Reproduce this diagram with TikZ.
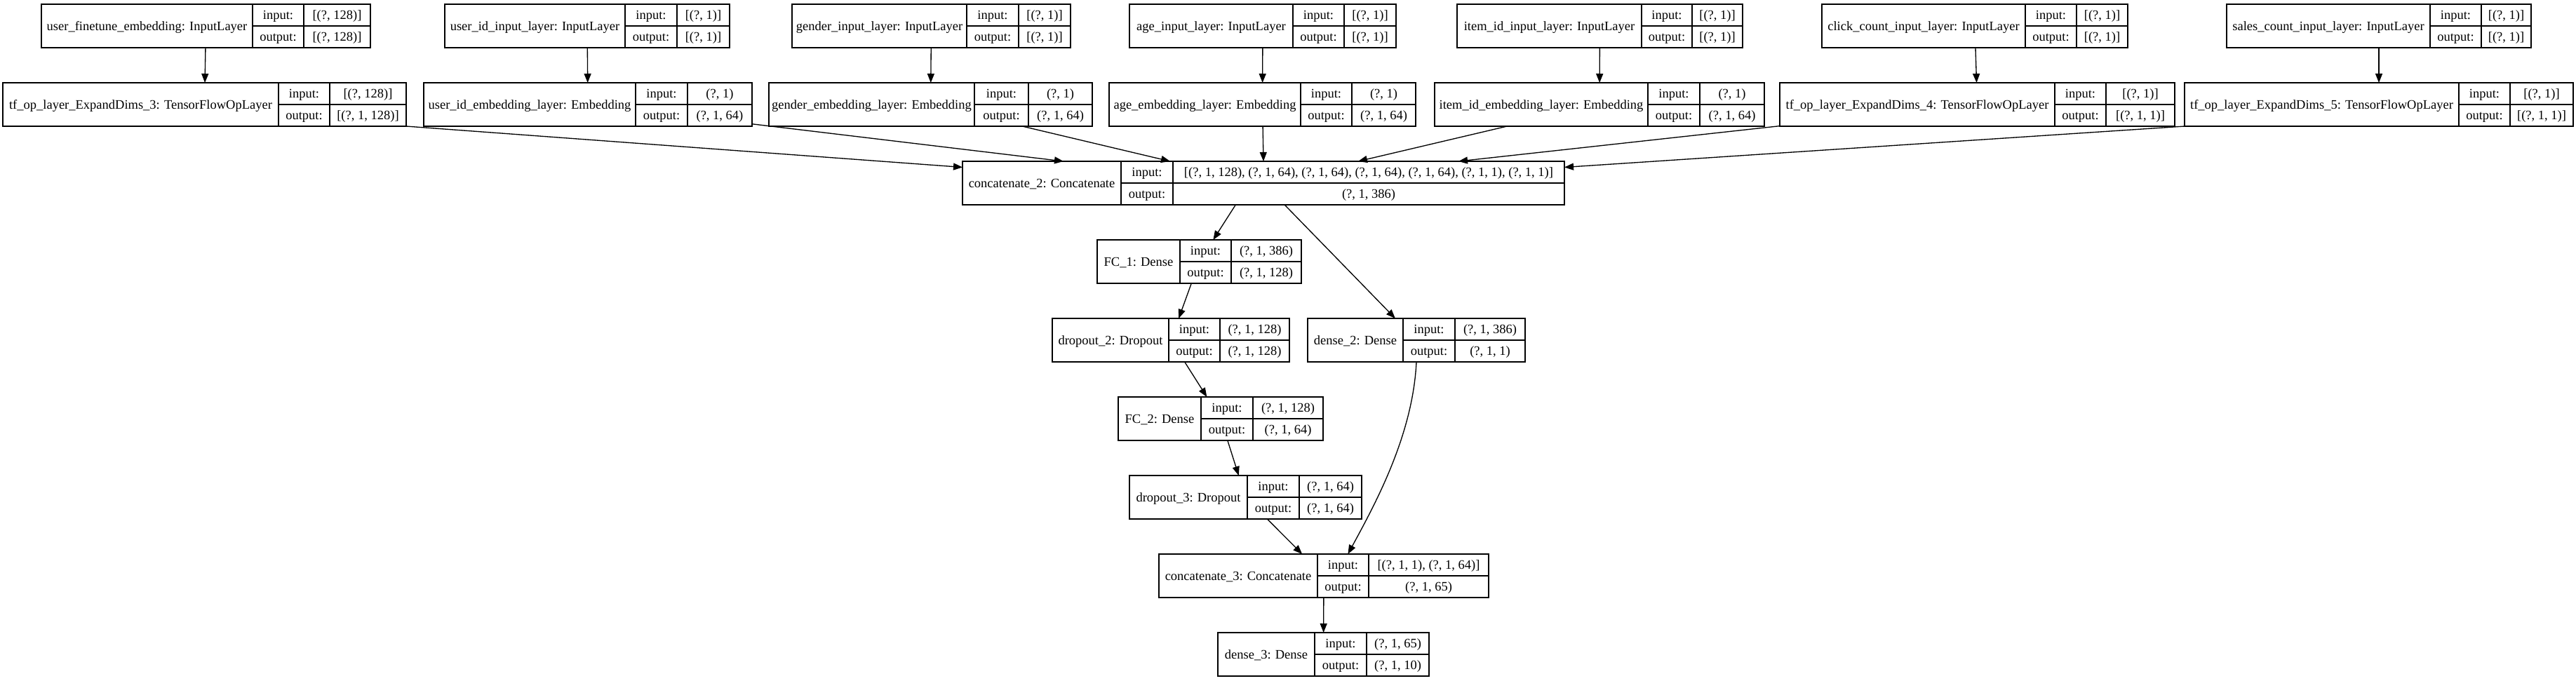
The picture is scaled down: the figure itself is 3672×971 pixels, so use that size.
\documentclass[tikz,border=0pt]{standalone}
\usepackage{fontspec}
\setmainfont{Liberation Serif}
\usetikzlibrary{arrows.meta}
\definecolor{LineColor}{RGB}{0,0,0}
\tikzstyle{arrow} = [line width=1.33pt, LineColor, -{Triangle[length=13pt, width=10pt]}]
\tikzset{
  layerbox/.style={rectangle, draw=LineColor, line width=1.33pt, inner sep=0pt, outer sep=0pt, minimum height=62pt, anchor=north west},
  cellline/.style={draw=LineColor, line width=1.33pt},
  celltext/.style={inner sep=0pt, text height=16.5pt, text depth=4pt, font=\fontsize{18.5}{22}\selectfont}
}
% name, left, second column, third column, right, top, label, input, output
\newcommand{\modellayer}[9]{%
  \node[layerbox, minimum width={(#5-#2)*1pt}] (#1) at (#2,#6) {};
  \draw[cellline] (#3,#6) -- ++(0,62) (#4,#6) -- ++(0,62) (#3,#6+31) -- (#5,#6+31);
  \node[celltext] at ({(#2+#3)/2},#6+31) {#7};
  \node[celltext] at ({(#3+#4)/2},#6+15.5) {input:};
  \node[celltext] at ({(#3+#4)/2},#6+46.5) {output:};
  \node[celltext] at ({(#4+#5)/2},#6+15.5) {#8};
  \node[celltext] at ({(#4+#5)/2},#6+46.5) {#9};
}

\begin{document}
\begin{tikzpicture}[x=1pt, y=-1pt]
    \useasboundingbox[fill=white] (0,0) rectangle (3672,971);

    % Input layers
    \modellayer{finetune}{59}{360}{433}{528}{6}{user\_finetune\_embedding: InputLayer}{[(?, 128)]}{[(?, 128)]}
    \modellayer{userid}{634}{891}{965}{1040}{6}{user\_id\_input\_layer: InputLayer}{[(?, 1)]}{[(?, 1)]}
    \modellayer{gender}{1129}{1378}{1452}{1526}{6}{gender\_input\_layer: InputLayer}{[(?, 1)]}{[(?, 1)]}
    \modellayer{age}{1610}{1843}{1916}{1990}{6}{age\_input\_layer: InputLayer}{[(?, 1)]}{[(?, 1)]}
    \modellayer{item}{2077}{2340}{2412}{2484}{6}{item\_id\_input\_layer: InputLayer}{[(?, 1)]}{[(?, 1)]}
    \modellayer{click}{2597}{2887}{2960}{3033}{6}{click\_count\_input\_layer: InputLayer}{[(?, 1)]}{[(?, 1)]}
    \modellayer{sales}{3174}{3464}{3537}{3608}{6}{sales\_count\_input\_layer: InputLayer}{[(?, 1)]}{[(?, 1)]}

    % Embeddings and expand dims
    \modellayer{expand3}{4}{397}{470}{579}{118}{tf\_op\_layer\_ExpandDims\_3: TensorFlowOpLayer}{[(?, 128)]}{[(?, 1, 128)]}
    \modellayer{userembed}{604}{906}{980}{1072}{118}{user\_id\_embedding\_layer: Embedding}{(?, 1)}{(?, 1, 64)}
    \modellayer{genderembed}{1096}{1389}{1466}{1557}{118}{gender\_embedding\_layer: Embedding}{(?, 1)}{(?, 1, 64)}
    \modellayer{ageembed}{1581}{1854}{1927}{2018}{118}{age\_embedding\_layer: Embedding}{(?, 1)}{(?, 1, 64)}
    \modellayer{itemembed}{2045}{2349}{2423}{2515}{118}{item\_id\_embedding\_layer: Embedding}{(?, 1)}{(?, 1, 64)}
    \modellayer{expand4}{2537}{2929}{3002}{3100}{118}{tf\_op\_layer\_ExpandDims\_4: TensorFlowOpLayer}{[(?, 1)]}{[(?, 1, 1)]}
    \modellayer{expand5}{3114}{3505}{3578}{3668}{118}{tf\_op\_layer\_ExpandDims\_5: TensorFlowOpLayer}{[(?, 1)]}{[(?, 1, 1)]}

    % Head
    \modellayer{concat2}{1372}{1598}{1672}{2230}{230}{concatenate\_2: Concatenate}{[(?, 1, 128), (?, 1, 64), (?, 1, 64), (?, 1, 64), (?, 1, 64), (?, 1, 1), (?, 1, 1)]}{(?, 1, 386)}
    \modellayer{fc1}{1564}{1682}{1755}{1855}{342}{FC\_1: Dense}{(?, 1, 386)}{(?, 1, 128)}
    \modellayer{drop2}{1500}{1666}{1739}{1838}{454}{dropout\_2: Dropout}{(?, 1, 128)}{(?, 1, 128)}
    \modellayer{dense2}{1864}{2000}{2074}{2174}{454}{dense\_2: Dense}{(?, 1, 386)}{(?, 1, 1)}
    \modellayer{fc2}{1594}{1712}{1786}{1886}{566}{FC\_2: Dense}{(?, 1, 128)}{(?, 1, 64)}
    \modellayer{drop3}{1610}{1778}{1852}{1941}{678}{dropout\_3: Dropout}{(?, 1, 64)}{(?, 1, 64)}
    \modellayer{concat3}{1652}{1878}{1951}{2122}{790}{concatenate\_3: Concatenate}{[(?, 1, 1), (?, 1, 64)]}{(?, 1, 65)}
    \modellayer{dense3}{1736}{1874}{1948}{2037}{902}{dense\_3: Dense}{(?, 1, 65)}{(?, 1, 10)}

    % Inputs to their next layer
    \foreach \a/\b in {finetune/expand3, userid/userembed, gender/genderembed, age/ageembed, item/itemembed, click/expand4, sales/expand5} {
            \draw[arrow] (\a) -- (\b);
        }

    % Into concatenate_2
    \draw[arrow] (expand3.south east) -- (concat2.177);
    \foreach \a/\dx in {userembed/-285, genderembed/-133, ageembed/0, itemembed/135, expand4/278} {
            \draw[arrow] (\a) -- ([xshift=\dx pt]concat2.north);
        }
    \draw[arrow] (expand5.south west) -- (concat2.3);

    % Dense branches
    \draw[arrow] (concat2.218) -- (fc1);
    \draw[arrow] (concat2) -- (dense2);
    \draw[arrow] (fc1) -- (drop2);
    \draw[arrow] (drop2) -- (fc2);
    \draw[arrow] (fc2) -- (drop3);
    \draw[arrow] (drop3) -- (concat3);
    \draw[arrow] (dense2.south) .. controls +(-5,105) and +(38,-70) .. (concat3.42);
    \draw[arrow] (concat3) -- (dense3);
\end{tikzpicture}
\end{document}
